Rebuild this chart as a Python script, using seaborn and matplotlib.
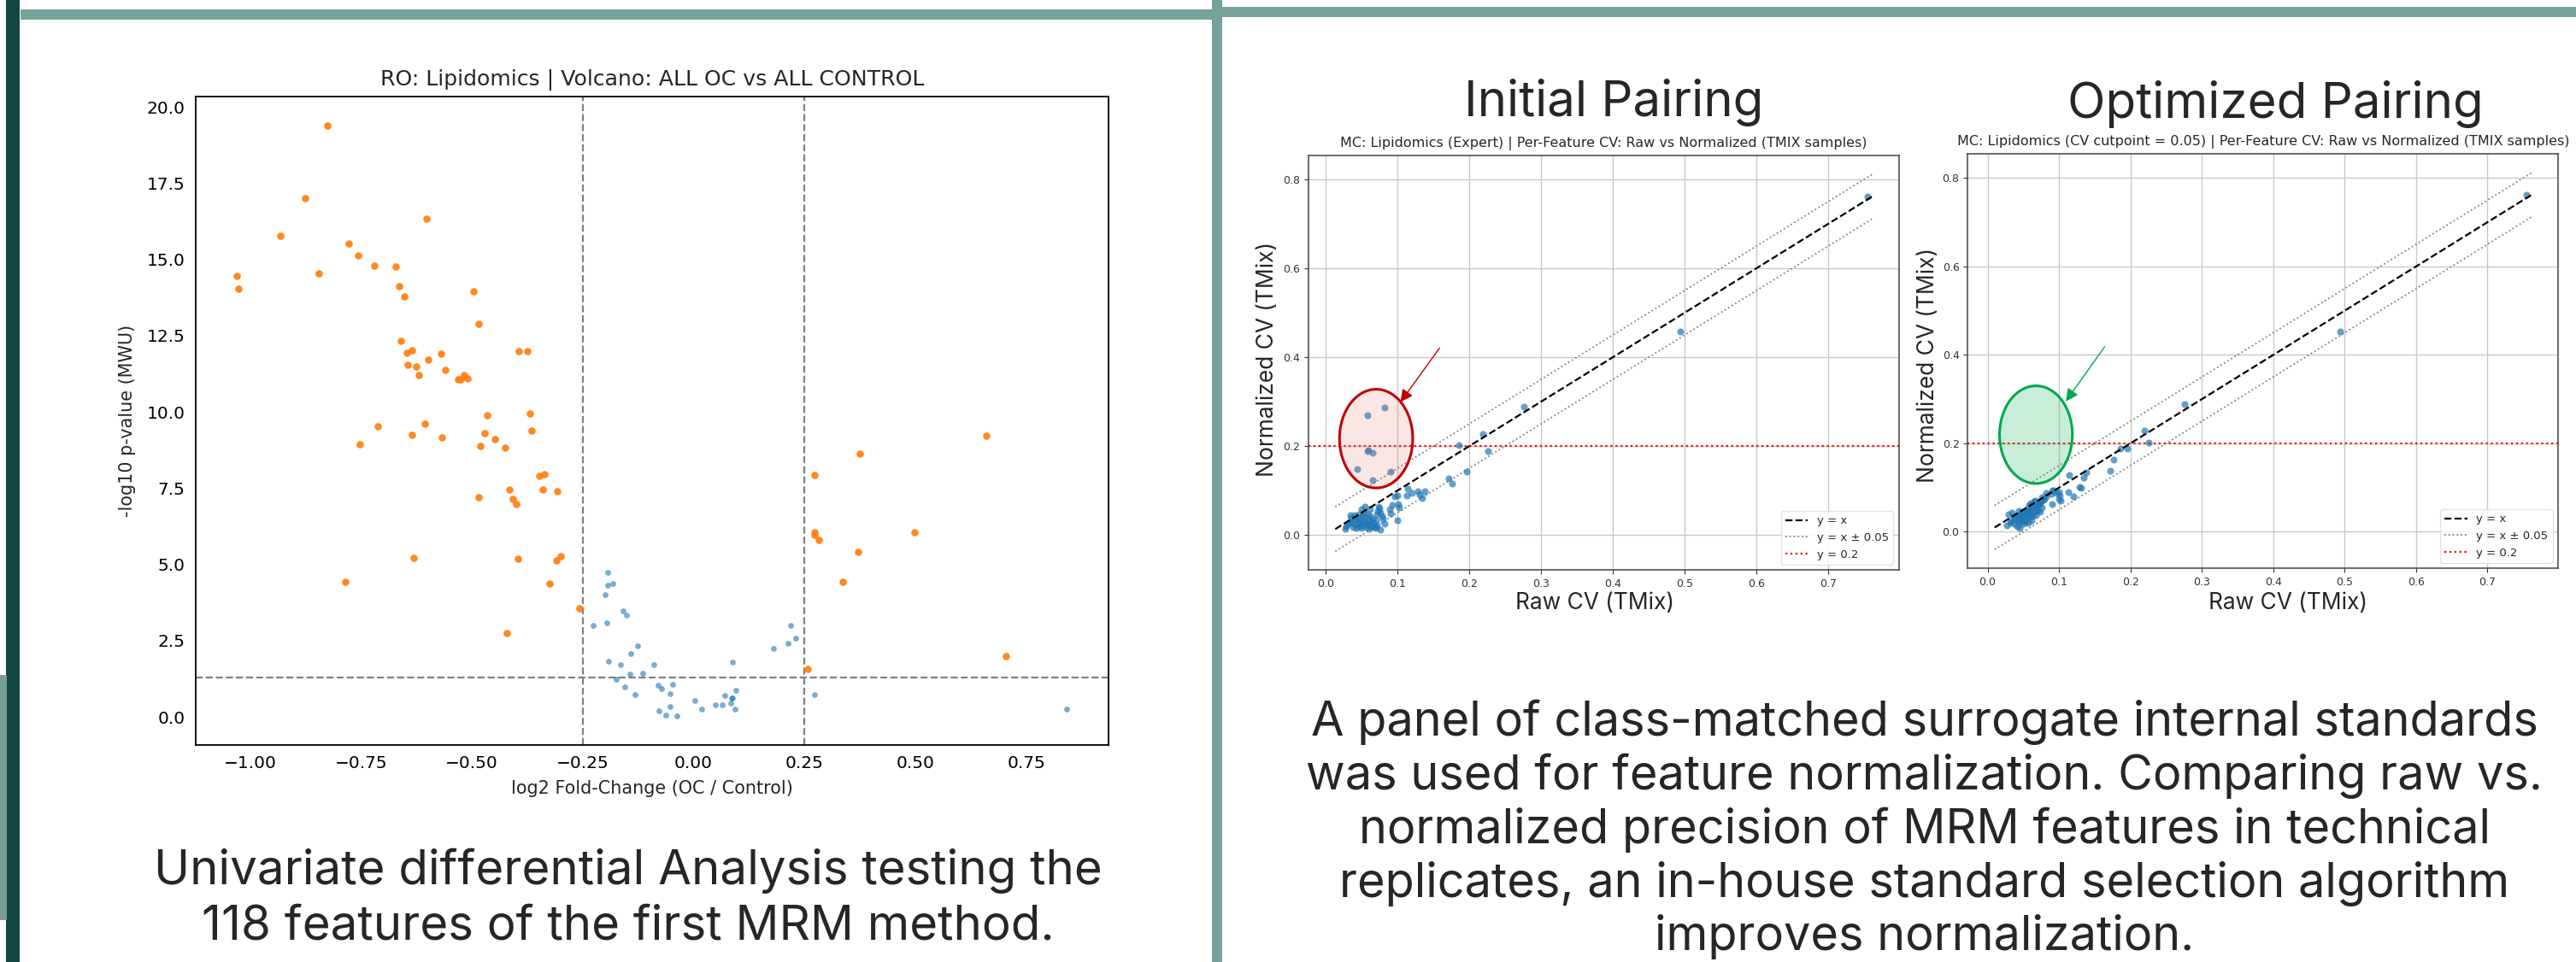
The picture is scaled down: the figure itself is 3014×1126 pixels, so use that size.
import matplotlib
matplotlib.use("Agg")
import matplotlib.pyplot as plt
import numpy as np
import pandas as pd
import seaborn as sns
from matplotlib.patches import Rectangle, Ellipse

# ---------------- volcano data ----------------
sig_fc = [-0.825, -0.876, -0.932, -0.603, -0.777, -0.757, -1.030, -0.845, -0.719, -0.671,
          -1.026, -0.663, -0.652, -0.497, -0.484, -0.660, -0.646, -0.635, -0.644, -0.625,
          -0.620, -0.598, -0.570, -0.560, -0.530, -0.526, -0.518, -0.509, -0.394, -0.375,
          -0.466, -0.370, -0.366, -0.713, -0.606, -0.752, -0.635, -0.568, -0.471, -0.449,
          -0.480, -0.424, -0.348, -0.337, -0.416, -0.340, -0.308, -0.485, -0.407, -0.399,
          -0.632, -0.396, -0.310, -0.300, -0.786, -0.325, -0.257, -0.422,
          0.660, 0.374, 0.273, 0.273, 0.273, 0.282, 0.499, 0.370, 0.337, 0.704, 0.257]
sig_p = [19.39, 17.00, 15.77, 16.34, 15.51, 15.13, 14.47, 14.54, 14.79, 14.77,
         14.05, 14.13, 13.79, 13.96, 12.88, 12.33, 11.93, 12.03, 11.54, 11.48,
         11.21, 11.71, 11.92, 11.38, 11.08, 11.06, 11.20, 11.09, 12.00, 11.99,
         9.90, 9.94, 9.39, 9.52, 9.61, 8.95, 9.24, 9.17, 9.31, 9.10,
         8.88, 8.82, 7.91, 7.95, 7.46, 7.45, 7.40, 7.21, 7.16, 6.98,
         5.21, 5.20, 5.13, 5.28, 4.42, 4.38, 3.55, 2.75,
         9.22, 8.62, 7.93, 6.05, 5.98, 5.79, 6.05, 5.42, 4.44, 1.99, 1.57]
ns_fc = [-0.194, -0.194, -0.183, -0.199, -0.159, -0.151, -0.227, -0.196, -0.126, -0.142,
         -0.191, -0.165, -0.089, 0.087, -0.143, -0.114, -0.175, -0.155, -0.133, -0.080,
         -0.073, -0.048, -0.053, -0.053, -0.078, -0.062, -0.038, 0.002, 0.018, 0.049,
         0.064, 0.070, 0.086, 0.087, 0.084, 0.096, 0.093, 0.219, 0.230, 0.213,
         0.181, 0.273, 0.842]
ns_p = [4.75, 4.33, 4.38, 4.02, 3.49, 3.34, 3.01, 3.08, 2.34, 2.08,
        1.83, 1.71, 1.71, 1.81, 1.41, 1.44, 1.24, 0.98, 0.72, 1.04,
        0.92, 1.08, 0.75, 0.35, 0.20, 0.06, 0.04, 0.53, 0.27, 0.41,
        0.41, 0.70, 0.61, 0.63, 0.45, 0.86, 0.26, 3.01, 2.57, 2.40,
        2.25, 0.73, 0.27]
fc_cutoffs = [-0.25, 0.25]
p_cutoff = 1.3
volcano_xticks = [-1.0, -0.75, -0.5, -0.25, 0.0, 0.25, 0.5, 0.75]
volcano_yticks = [0.0, 2.5, 5.0, 7.5, 10.0, 12.5, 15.0, 17.5, 20.0]

# ---------------- CV data ----------------
raw_cv = [0.058, 0.082, 0.058, 0.060, 0.066, 0.044, 0.090, 0.065,
          0.186, 0.219, 0.226, 0.196, 0.172, 0.176, 0.276, 0.494, 0.755,
          0.114, 0.113, 0.120, 0.129, 0.138, 0.131, 0.135, 0.100, 0.096, 0.101, 0.093, 0.089, 0.090, 0.102, 0.100,
          0.074, 0.076, 0.071, 0.078, 0.080, 0.082, 0.076, 0.070, 0.055, 0.062, 0.050,
          0.027, 0.029, 0.031, 0.033, 0.034, 0.036, 0.037, 0.038, 0.040, 0.041,
          0.042, 0.043, 0.044, 0.045, 0.046, 0.047, 0.048, 0.049, 0.050, 0.051,
          0.052, 0.053, 0.054, 0.055, 0.056, 0.057, 0.058, 0.059, 0.060, 0.061,
          0.062, 0.063, 0.064, 0.066, 0.067, 0.068, 0.070, 0.072, 0.073, 0.075]
norm_cv_initial = [0.270, 0.286, 0.189, 0.190, 0.186, 0.149, 0.142, 0.124,
                   0.203, 0.227, 0.189, 0.143, 0.128, 0.115, 0.288, 0.457, 0.762,
                   0.104, 0.089, 0.095, 0.098, 0.099, 0.090, 0.084, 0.089, 0.088, 0.069, 0.068, 0.059, 0.049, 0.063, 0.034,
                   0.065, 0.050, 0.047, 0.042, 0.037, 0.026, 0.013, 0.016, 0.065, 0.058, 0.058,
                   0.015, 0.020, 0.025, 0.030, 0.045, 0.040, 0.028, 0.018, 0.045, 0.035,
                   0.024, 0.016, 0.040, 0.030, 0.020, 0.047, 0.036, 0.026, 0.016, 0.043,
                   0.032, 0.022, 0.050, 0.040, 0.028, 0.018, 0.046, 0.034, 0.024, 0.014,
                   0.042, 0.030, 0.020, 0.038, 0.027, 0.017, 0.033, 0.022, 0.055, 0.060]
norm_cv_optimized = [0.060, 0.087, 0.050, 0.065, 0.070, 0.048, 0.093, 0.069,
                     0.188, 0.228, 0.201, 0.189, 0.139, 0.164, 0.289, 0.454, 0.762,
                     0.128, 0.090, 0.080, 0.101, 0.134, 0.099, 0.122, 0.074, 0.088, 0.082, 0.093, 0.085, 0.062, 0.070, 0.090,
                     0.066, 0.078, 0.060, 0.072, 0.075, 0.080, 0.055, 0.049, 0.052, 0.058, 0.045,
                     0.014, 0.040, 0.020, 0.025, 0.044, 0.030, 0.018, 0.035, 0.028, 0.012,
                     0.038, 0.022, 0.030, 0.008, 0.040, 0.025, 0.033, 0.018, 0.045, 0.028,
                     0.036, 0.022, 0.048, 0.030, 0.040, 0.020, 0.045, 0.033, 0.050, 0.026,
                     0.042, 0.035, 0.055, 0.045, 0.038, 0.060, 0.050, 0.062, 0.045, 0.068]
cv_band = 0.05
cv_threshold = 0.2
diag_span_initial = [0.0135, 0.761]
diag_span_optimized = [0.0097, 0.762]
cv_xticks = [0.0, 0.1, 0.2, 0.3, 0.4, 0.5, 0.6, 0.7]
cv_yticks = [0.0, 0.2, 0.4, 0.6, 0.8]

# highlight annotations (data units)
hl_initial = dict(center=(0.0704, 0.217), size=(0.102, 0.222), arrow_from=(0.1587, 0.4205), arrow_to=(0.1042, 0.299))
hl_optimized = dict(center=(0.0677, 0.2197), size=(0.102, 0.221), arrow_from=(0.164, 0.419), arrow_to=(0.1096, 0.295))

volcano_title = "RO: Lipidomics | Volcano: ALL OC vs ALL CONTROL"
cv_title_initial = "MC: Lipidomics (Expert) | Per-Feature CV: Raw vs Normalized (TMIX samples)"
cv_title_optimized = "MC: Lipidomics (CV cutpoint = 0.05) | Per-Feature CV: Raw vs Normalized (TMIX samples)"
caption_left = ["Univariate differential Analysis testing the",
                "118 features of the first MRM method."]
caption_right = ["A panel of class-matched surrogate internal standards",
                 "was used for feature normalization. Comparing raw vs.",
                 "normalized precision of MRM features in technical",
                 "replicates, an in-house standard selection algorithm",
                 "improves normalization."]

# ---------------- figure ----------------
sns.set_style("white")
plt.rcParams['font.family'] = ['DejaVu Sans']
W, H = 3014, 1126
fig = plt.figure(figsize=(W / 100, H / 100), dpi=100, facecolor='white')
SLIDE_FONT = ['Inter', 'Lato', 'DejaVu Sans']
SLIDE_WEIGHT = 'normal'
renderer = fig.canvas.get_renderer()


def fit_width(texts, target_px):
    w = max(t.get_window_extent(renderer).width for t in texts)
    for t in texts:
        t.set_fontsize(t.get_fontsize() * target_px / w)


def px_axes(x0, y0, x1, y1):
    return [x0 / W, 1 - y1 / H, (x1 - x0) / W, (y1 - y0) / H]


def px_rect(x0, y0, x1, y1, color):
    fig.patches.append(Rectangle((x0 / W, 1 - y1 / H), (x1 - x0) / W, (y1 - y0) / H,
                                 transform=fig.transFigure, color=color, lw=0, zorder=0))


# decorations
px_rect(7, 0, 23, 1126, '#134543')
px_rect(0, 790, 8, 1077, '#7a9c97')
px_rect(24, 11, 1420, 23, '#77a29b')
px_rect(1418, 8, 3014, 20, '#77a29b')
px_rect(1418, 0, 1430, 1126, '#77a29b')

# ---------------- volcano ----------------
axv = fig.add_axes(px_axes(228.5, 112.7, 1297, 872))
dfv_ns = pd.DataFrame({'fc': ns_fc, 'p': ns_p})
dfv_sig = pd.DataFrame({'fc': sig_fc, 'p': sig_p})
sns.scatterplot(data=dfv_ns, x='fc', y='p', color='#1f77b4', alpha=0.6, s=24, linewidth=0, ax=axv, zorder=3)
sns.scatterplot(data=dfv_sig, x='fc', y='p', color='#ff7f0e', alpha=0.92, s=38, linewidth=0, ax=axv, zorder=4)
for c in fc_cutoffs:
    axv.axvline(c, color='#808080', ls='--', lw=1.6, zorder=2)
axv.axhline(p_cutoff, color='#808080', ls='--', lw=1.6, zorder=2)
axv.set_xlim(-1.1235, 0.9355)
axv.set_ylim(-0.92, 20.35)
axv.set_xticks(volcano_xticks)
axv.set_yticks(volcano_yticks)
axv.set_xticklabels([f"{v:.2f}".replace('-', '\u2212') for v in volcano_xticks])
axv.set_yticklabels([f"{v:.1f}" for v in volcano_yticks])
axv.tick_params(labelsize=14.5, length=5, width=1.1, colors='black', direction='out')
axv.set_xlabel("log2 Fold-Change (OC / Control)", fontsize=14.5, labelpad=7)
axv.set_ylabel("-log10 p-value (MWU)", fontsize=14.5, labelpad=9)
axv.set_title(volcano_title, fontsize=17.5, pad=9)
fit_width([axv.title], 634)
fit_width([axv.xaxis.label], 331)
axv.yaxis.label.set_fontsize(axv.xaxis.label.get_fontsize())
for s in axv.spines.values():
    s.set_linewidth(1.3)
    s.set_color('black')


# ---------------- CV panels ----------------
def cv_panel(rect, norm, span, title, title_w, hl, edge, face, ylab_xy, xlab_xy):
    ax = fig.add_axes(rect)
    df = pd.DataFrame({'raw': raw_cv, 'norm': norm})
    sns.scatterplot(data=df, x='raw', y='norm', color='#1f77b4', alpha=0.7, s=34, linewidth=0, ax=ax, zorder=3)
    xs = np.array(span)
    ax.plot(xs, xs, color='black', ls='--', lw=1.6, label='y = x', zorder=4)
    ax.plot(xs, xs + cv_band, color='gray', ls=':', lw=1.3, label='y = x \u00b1 0.05', zorder=2)
    ax.plot(xs, xs - cv_band, color='gray', ls=':', lw=1.3, zorder=2)
    ax.axhline(cv_threshold, color='red', ls=':', lw=1.6, label='y = 0.2', zorder=2)
    lo, hi = span
    ax.set_xlim(lo - 0.05 * (hi - lo), hi + 0.05 * (hi - lo))
    ylo, yhi = lo - cv_band, hi + cv_band
    ax.set_ylim(ylo - 0.05 * (yhi - ylo), yhi + 0.05 * (yhi - ylo))
    ax.set_xticks(cv_xticks)
    ax.set_yticks(cv_yticks)
    ax.set_xticklabels([f"{v:.1f}" for v in cv_xticks])
    ax.set_yticklabels([f"{v:.1f}" for v in cv_yticks])
    ax.grid(True, color='#c8c8c8', lw=1.0)
    ax.set_axisbelow(True)
    ax.tick_params(labelsize=9, length=3.5, width=0.8, colors='#333333', left=True, bottom=True)
    for s in ax.spines.values():
        s.set_linewidth(1.1)
        s.set_color('#444444')
    ax.set_title(title, fontsize=10, pad=7)
    fit_width([ax.title], title_w)
    ax.set_xlabel("Raw CV (TMix)", fontsize=19, family=SLIDE_FONT, fontweight=SLIDE_WEIGHT)
    ax.set_ylabel("Normalized CV (TMix)", fontsize=19, family=SLIDE_FONT, fontweight=SLIDE_WEIGHT)
    fit_width([ax.xaxis.label], 186)
    ax.yaxis.label.set_fontsize(ax.xaxis.label.get_fontsize())
    ax.xaxis.set_label_coords(*xlab_xy)
    ax.yaxis.set_label_coords(*ylab_xy)
    ax.xaxis.label.set_verticalalignment('center')
    ax.yaxis.label.set_verticalalignment('center')
    ax.legend(loc='lower right', fontsize=9.5, framealpha=0.85, edgecolor='#dddddd')
    ell = Ellipse(hl['center'], hl['size'][0], hl['size'][1], facecolor=face, edgecolor=edge,
                  lw=2.2, zorder=5)
    ax.add_patch(ell)
    ax.annotate('', xy=hl['arrow_to'], xytext=hl['arrow_from'],
                arrowprops=dict(arrowstyle='-|>', color=edge, lw=1.0, mutation_scale=22,
                                shrinkA=0, shrinkB=0), zorder=6)
    return ax


cv_panel(px_axes(1530.9, 182.1, 2221.8, 667.4), norm_cv_initial, diag_span_initial,
         cv_title_initial, 613, hl_initial, '#c00000', (0.91, 0.52, 0.47, 0.2),
         (-0.069, 0.508), (0.485, -0.0795))
cv_panel(px_axes(2302.3, 180.2, 2993.4, 665.4), norm_cv_optimized, diag_span_optimized,
         cv_title_optimized, 713, hl_optimized, '#00a84f', (0.18, 0.72, 0.42, 0.25),
         (-0.067, 0.491), (0.542, -0.0837))

# ---------------- slide texts ----------------
t1 = fig.text(1888 / W, 1 - 136.4 / H, "Initial Pairing", ha='center', va='baseline', fontsize=40,
              family=SLIDE_FONT, fontweight=SLIDE_WEIGHT)
t2 = fig.text(2662 / W, 1 - 138 / H, "Optimized Pairing", ha='center', va='baseline', fontsize=40,
              family=SLIDE_FONT, fontweight=SLIDE_WEIGHT)
fit_width([t1], 350)
t2.set_fontsize(t1.get_fontsize())

left_baselines = [1035, 1099]
left_lines = [fig.text(735 / W, 1 - b / H, s, ha='center', va='baseline', fontsize=37,
                       family=SLIDE_FONT, fontweight=SLIDE_WEIGHT)
              for s, b in zip(caption_left, left_baselines)]
fit_width(left_lines, 1110)

right_baselines = [861, 924, 987, 1050, 1112]
right_lines = [fig.text(2252 / W, 1 - b / H, s, ha='center', va='baseline', fontsize=39,
                        family=SLIDE_FONT, fontweight=SLIDE_WEIGHT)
               for s, b in zip(caption_right, right_baselines)]
fit_width(right_lines, 1447)

fig.savefig("out.png", dpi=100, facecolor='white')
